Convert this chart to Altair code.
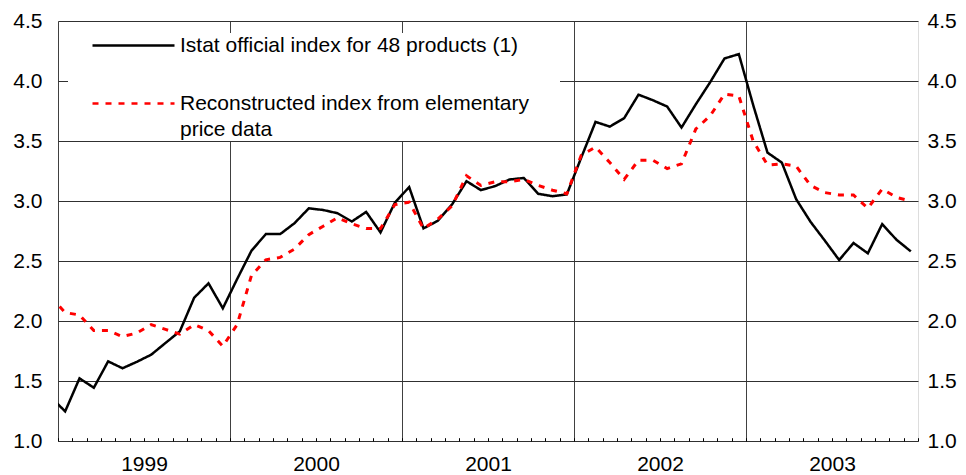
import altair as alt
import pandas as pd

# Month labels: Dec 1998 (partly clipped at the left edge) through Dec 2003
months = ["1998-12"] + [f"{y}-{m:02d}" for y in range(1999, 2004) for m in range(1, 13)]

official = [1.365,
            1.247, 1.522, 1.444, 1.664, 1.606, 1.660, 1.719, 1.817, 1.914, 2.194, 2.314, 2.106,
            2.350, 2.586, 2.724, 2.724, 2.815, 2.939, 2.925, 2.898, 2.829, 2.909, 2.738, 2.986,
            3.116, 2.772, 2.835, 2.973, 3.165, 3.091, 3.124, 3.179, 3.192, 3.060, 3.040, 3.055,
            3.360, 3.659, 3.620, 3.690, 3.886, 3.840, 3.787, 3.612, 3.806, 3.990, 4.188, 4.224,
            3.800, 3.403, 3.320, 3.015, 2.827, 2.670, 2.508, 2.650, 2.564, 2.807, 2.677, 2.580]

reconstructed = [2.20,
                 2.07, 2.05, 1.92, 1.92, 1.87, 1.90, 1.97, 1.93, 1.89, 1.97, 1.92, 1.79,
                 1.97, 2.38, 2.51, 2.53, 2.60, 2.72, 2.79, 2.86, 2.81, 2.77, 2.77, 2.97,
                 2.99, 2.77, 2.85, 2.96, 3.21, 3.13, 3.16, 3.16, 3.18, 3.13, 3.09, 3.06,
                 3.38, 3.45, 3.32, 3.18, 3.34, 3.34, 3.27, 3.31, 3.60, 3.71, 3.89, 3.875,
                 3.50, 3.30, 3.31, 3.29, 3.13, 3.07, 3.05, 3.05, 2.94, 3.10, 3.03, 3.00]

years = ["1999", "2000", "2001", "2002", "2003"]
y_ticks = [1.0, 1.5, 2.0, 2.5, 3.0, 3.5, 4.0, 4.5]

S1 = "Istat official index for 48 products (1)"
S2 = "Reconstructed index from elementary price data"
S2_line1 = "Reconstructed index from elementary" + "\u2800" * 2
S2_line2 = "price data"

rows = []
for i, m in enumerate(months):
    t = i - 1 + 0.5  # month centre, Jan 1999 = 0.5
    rows.append({"month": m, "t": t, "series": S1, "value": official[i]})
    rows.append({"month": m, "t": t, "series": S2, "value": reconstructed[i]})
df = pd.DataFrame(rows)

W, H = 860, 420
FONT = "Liberation Sans"

legend = alt.Legend(
    title=None, orient="none", legendX=10, legendY=12,
    fillColor="white", padding=1,
    symbolType="M-4,0H4", symbolSize=420.25, symbolStrokeWidth=2.5, symbolOffset=53,
    labelFontSize=21, labelFont=FONT, labelColor="black", labelOffset=35,
    labelLimit=700, rowPadding=36,
    labelExpr=f"datum.label == '{S2}' ? ['{S2_line1}', '{S2_line2}'] : datum.label",
)

color = alt.Color("series:N", scale=alt.Scale(domain=[S1, S2], range=["#000000", "#ff0000"]), legend=legend)
dash = alt.StrokeDash("series:N", scale=alt.Scale(domain=[S1, S2], range=[[1, 0], [6, 7]]), legend=legend)

xscale = alt.Scale(domain=[0, 60], nice=False, zero=False)
yscale = alt.Scale(domain=[1.0, 4.5], nice=False, zero=False)

year_expr = "[" + ",".join(f"'{y}'" for y in years) + "][round(datum.value/12)]"

xA = alt.X("t:Q", scale=xscale, title=None,
           axis=alt.Axis(orient="bottom", values=[0, 12, 24, 36, 48], labelExpr=year_expr,
                         labelOffset=86, labelFlush=False, labelPadding=12, tickSize=0,
                         grid=True, gridColor="#404040", gridWidth=1, domain=False,
                         labelFontSize=21, labelFont=FONT, labelColor="black"))
yA = alt.Y("value:Q", scale=yscale, title=None,
           axis=alt.Axis(orient="left", values=y_ticks, format=".1f", tickSize=0,
                         grid=True, gridColor="#303030", gridWidth=1, domain=False,
                         labelPadding=16, labelFontSize=21, labelFont=FONT, labelColor="black",
                         labelFlush=False))

xB = alt.X("t:Q", scale=xscale, title=None,
           axis=alt.Axis(orient="top", offset=-H, values=list(range(0, 61)), labels=False,
                         tickSize=3.3, tickColor="black", tickWidth=1, grid=False, domain=False))
yB = alt.Y("value:Q", scale=yscale, title=None,
           axis=alt.Axis(orient="right", values=y_ticks, format=".1f", tickSize=0,
                         grid=False, domain=False, labelPadding=9, labelFontSize=21,
                         labelFont=FONT, labelColor="black", labelFlush=False))

black = alt.Chart(df).transform_filter(alt.datum.series == S1).mark_line(
    clip=True, strokeWidth=2.5).encode(x=xA, y=yA, color=color, strokeDash=dash, order="t:Q")
red = alt.Chart(df).transform_filter(alt.datum.series == S2).mark_line(
    clip=True, strokeWidth=3).encode(x=xB, y=yB, color=color, strokeDash=dash, order="t:Q")

chart = alt.layer(black, red).properties(
    width=W, height=H,
    autosize=alt.AutoSizeParams(type="none"),
    padding={"left": 50, "top": 13, "right": 40, "bottom": 34},
).configure_view(stroke="black", strokeWidth=1).configure(
    background="white", style={"guide-label": {"lineHeight": 26}})

chart.save("out.html", embed_options={"renderer": "svg", "actions": False})
